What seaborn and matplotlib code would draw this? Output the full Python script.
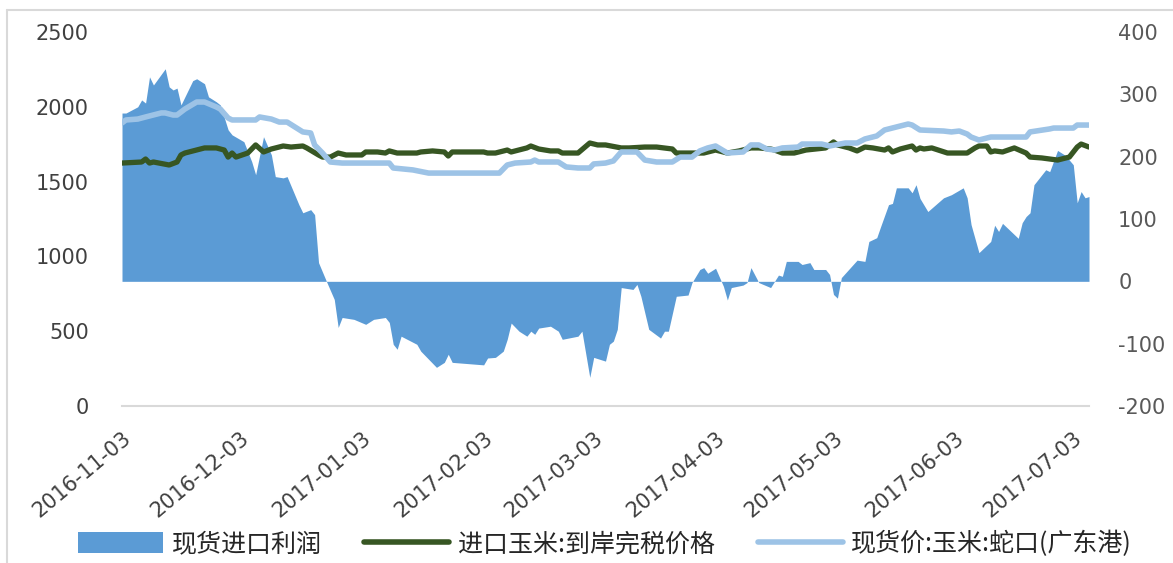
import pandas as pd
import seaborn as sns
import matplotlib.pyplot as plt
from matplotlib.lines import Line2D
from matplotlib.patches import Patch

# 现货进口利润 (right axis)
profit_dates = ['2016-11-03', '2016-11-04', '2016-11-07', '2016-11-08', '2016-11-09', '2016-11-10',
                '2016-11-11', '2016-11-14', '2016-11-15', '2016-11-16', '2016-11-17', '2016-11-18',
                '2016-11-21', '2016-11-22', '2016-11-24', '2016-11-25', '2016-11-27', '2016-11-28',
                '2016-11-30', '2016-12-01', '2016-12-04', '2016-12-06', '2016-12-07', '2016-12-09',
                '2016-12-11', '2016-12-12', '2016-12-14', '2016-12-15', '2016-12-18', '2016-12-19',
                '2016-12-21', '2016-12-22', '2016-12-23', '2016-12-25', '2016-12-27', '2016-12-28',
                '2016-12-29', '2017-01-01', '2017-01-04', '2017-01-06', '2017-01-09', '2017-01-10',
                '2017-01-11', '2017-01-12', '2017-01-13', '2017-01-17', '2017-01-18', '2017-01-20',
                '2017-01-22', '2017-01-24', '2017-01-25', '2017-01-26', '2017-02-03', '2017-02-04',
                '2017-02-06', '2017-02-08', '2017-02-09', '2017-02-10', '2017-02-12', '2017-02-14',
                '2017-02-15', '2017-02-16', '2017-02-17', '2017-02-20', '2017-02-22', '2017-02-23',
                '2017-02-27', '2017-02-28', '2017-03-02', '2017-03-03', '2017-03-06', '2017-03-07',
                '2017-03-08', '2017-03-09', '2017-03-10', '2017-03-13', '2017-03-14', '2017-03-15',
                '2017-03-17', '2017-03-20', '2017-03-21', '2017-03-22', '2017-03-24', '2017-03-27',
                '2017-03-28', '2017-03-30', '2017-03-31', '2017-04-01', '2017-04-03', '2017-04-05',
                '2017-04-06', '2017-04-07', '2017-04-10', '2017-04-11', '2017-04-12', '2017-04-14',
                '2017-04-17', '2017-04-18', '2017-04-19', '2017-04-20', '2017-04-21', '2017-04-24',
                '2017-04-25', '2017-04-27', '2017-04-28', '2017-05-01', '2017-05-02', '2017-05-03',
                '2017-05-04', '2017-05-05', '2017-05-08', '2017-05-09', '2017-05-11', '2017-05-12',
                '2017-05-14', '2017-05-15', '2017-05-17', '2017-05-18', '2017-05-19', '2017-05-22',
                '2017-05-23', '2017-05-24', '2017-05-25', '2017-05-27', '2017-05-31', '2017-06-02',
                '2017-06-05', '2017-06-06', '2017-06-07', '2017-06-09', '2017-06-12', '2017-06-13',
                '2017-06-14', '2017-06-15', '2017-06-19', '2017-06-20', '2017-06-21', '2017-06-22',
                '2017-06-23', '2017-06-26', '2017-06-27', '2017-06-29', '2017-07-01', '2017-07-03',
                '2017-07-04', '2017-07-05', '2017-07-06', '2017-07-07']
profit_values = [270, 270, 280, 291, 286, 328,
                 315, 341, 312, 307, 310, 283,
                 322, 325, 317, 296, 288, 283,
                 243, 235, 224, 192, 171, 232,
                 203, 168, 166, 168, 123, 110,
                 115, 107, 30, 0, -29, -74,
                 -58, -61, -69, -61, -58, -66,
                 -101, -109, -88, -101, -112, -125,
                 -138, -130, -117, -130, -134, -123,
                 -122, -112, -93, -67, -80, -88,
                 -80, -85, -75, -72, -80, -93,
                 -88, -80, -154, -122, -128, -101,
                 -96, -77, -10, -13, -5, -24,
                 -77, -91, -80, -80, -24, -22,
                 -2, 19, 22, 13, 21, -8,
                 -30, -10, -6, -2, 22, -2,
                 -10, 0, 10, 8, 32, 32,
                 27, 30, 19, 19, 11, -21,
                 -27, 6, 27, 34, 32, 64,
                 70, 88, 123, 125, 150, 150,
                 142, 155, 133, 112, 134, 139,
                 150, 134, 91, 46, 64, 90,
                 80, 93, 69, 94, 104, 110,
                 155, 179, 176, 210, 202, 187,
                 126, 144, 134, 136]

# 进口玉米:到岸完税价格 (left axis)
cif_dates = ['2016-11-03', '2016-11-08', '2016-11-09', '2016-11-10', '2016-11-11', '2016-11-15',
             '2016-11-17', '2016-11-18', '2016-11-19', '2016-11-24', '2016-11-27', '2016-11-29',
             '2016-11-30', '2016-12-01', '2016-12-02', '2016-12-05', '2016-12-07', '2016-12-09',
             '2016-12-11', '2016-12-14', '2016-12-16', '2016-12-19', '2016-12-20', '2016-12-23',
             '2016-12-24', '2016-12-26', '2016-12-28', '2016-12-30', '2017-01-03', '2017-01-04',
             '2017-01-07', '2017-01-09', '2017-01-10', '2017-01-12', '2017-01-17', '2017-01-18',
             '2017-01-21', '2017-01-24', '2017-01-25', '2017-01-26', '2017-02-03', '2017-02-04',
             '2017-02-06', '2017-02-09', '2017-02-10', '2017-02-14', '2017-02-15', '2017-02-17',
             '2017-02-20', '2017-02-22', '2017-02-23', '2017-02-27', '2017-03-02', '2017-03-04',
             '2017-03-06', '2017-03-10', '2017-03-12', '2017-03-16', '2017-03-19', '2017-03-23',
             '2017-03-24', '2017-03-29', '2017-03-31', '2017-04-03', '2017-04-06', '2017-04-09',
             '2017-04-12', '2017-04-14', '2017-04-17', '2017-04-18', '2017-04-20', '2017-04-23',
             '2017-04-26', '2017-05-01', '2017-05-03', '2017-05-04', '2017-05-07', '2017-05-09',
             '2017-05-11', '2017-05-13', '2017-05-16', '2017-05-17', '2017-05-18', '2017-05-20',
             '2017-05-23', '2017-05-24', '2017-05-25', '2017-05-26', '2017-05-28', '2017-06-01',
             '2017-06-06', '2017-06-08', '2017-06-09', '2017-06-11', '2017-06-12', '2017-06-13',
             '2017-06-15', '2017-06-18', '2017-06-21', '2017-06-22', '2017-06-25', '2017-06-29',
             '2017-07-02', '2017-07-04', '2017-07-05', '2017-07-07']
cif_values = [1624, 1631, 1651, 1624, 1631, 1611,
              1631, 1678, 1691, 1725, 1725, 1711,
              1664, 1691, 1664, 1691, 1745, 1698,
              1718, 1738, 1731, 1738, 1725, 1678,
              1664, 1664, 1691, 1678, 1678, 1698,
              1698, 1691, 1705, 1691, 1691, 1698,
              1705, 1698, 1671, 1698, 1698, 1691,
              1691, 1711, 1698, 1725, 1738, 1718,
              1705, 1705, 1691, 1691, 1758, 1745,
              1745, 1725, 1725, 1731, 1731, 1718,
              1691, 1691, 1691, 1711, 1691, 1705,
              1725, 1725, 1718, 1711, 1691, 1691,
              1711, 1725, 1765, 1745, 1725, 1705,
              1731, 1725, 1711, 1725, 1698, 1718,
              1738, 1711, 1725, 1718, 1725, 1691,
              1691, 1725, 1738, 1738, 1698, 1705,
              1698, 1725, 1691, 1664, 1658, 1644,
              1664, 1731, 1751, 1731]

# 现货价:玉米:蛇口(广东港) (left axis)
spot_dates = ['2016-11-03', '2016-11-04', '2016-11-07', '2016-11-09', '2016-11-13', '2016-11-14',
              '2016-11-16', '2016-11-17', '2016-11-19', '2016-11-22', '2016-11-24', '2016-11-27',
              '2016-11-28', '2016-11-30', '2016-12-01', '2016-12-07', '2016-12-08', '2016-12-11',
              '2016-12-13', '2016-12-15', '2016-12-17', '2016-12-19', '2016-12-21', '2016-12-22',
              '2016-12-24', '2016-12-26', '2016-12-29', '2017-01-10', '2017-01-11', '2017-01-16',
              '2017-01-20', '2017-02-07', '2017-02-09', '2017-02-11', '2017-02-15', '2017-02-16',
              '2017-02-17', '2017-02-22', '2017-02-24', '2017-02-27', '2017-03-02', '2017-03-03',
              '2017-03-06', '2017-03-08', '2017-03-10', '2017-03-14', '2017-03-16', '2017-03-19',
              '2017-03-23', '2017-03-25', '2017-03-28', '2017-03-30', '2017-04-01', '2017-04-03',
              '2017-04-06', '2017-04-10', '2017-04-12', '2017-04-14', '2017-04-16', '2017-04-18',
              '2017-04-20', '2017-04-24', '2017-04-25', '2017-04-30', '2017-05-02', '2017-05-06',
              '2017-05-09', '2017-05-11', '2017-05-14', '2017-05-16', '2017-05-19', '2017-05-22',
              '2017-05-23', '2017-05-25', '2017-05-31', '2017-06-02', '2017-06-04', '2017-06-06',
              '2017-06-07', '2017-06-09', '2017-06-12', '2017-06-21', '2017-06-22', '2017-06-27',
              '2017-06-28', '2017-07-03', '2017-07-04', '2017-07-07']
spot_values = [1892, 1912, 1918, 1932, 1959, 1959,
               1945, 1945, 1985, 2032, 2032, 1999,
               1985, 1925, 1912, 1912, 1932, 1918,
               1898, 1898, 1865, 1832, 1825, 1745,
               1691, 1631, 1624, 1624, 1591, 1578,
               1557, 1557, 1611, 1624, 1631, 1644,
               1631, 1631, 1598, 1591, 1591, 1618,
               1624, 1638, 1698, 1698, 1644, 1631,
               1631, 1664, 1664, 1705, 1725, 1738,
               1691, 1698, 1745, 1745, 1718, 1711,
               1725, 1731, 1751, 1751, 1738, 1758,
               1758, 1785, 1805, 1845, 1865, 1885,
               1878, 1845, 1838, 1832, 1838, 1818,
               1798, 1778, 1798, 1798, 1832, 1852,
               1858, 1858, 1878, 1878]

tick_dates = ['2016-11-03', '2016-12-03', '2017-01-03', '2017-02-03', '2017-03-03',
              '2017-04-03', '2017-05-03', '2017-06-03', '2017-07-03']
left_ticks = [0, 500, 1000, 1500, 2000, 2500]
right_ticks = [-200, -100, 0, 100, 200, 300, 400]

names = ['现货进口利润', '进口玉米:到岸完税价格', '现货价:玉米:蛇口(广东港)']
c_area = '#5B9BD5'
c_green = '#375623'
c_light = '#9DC3E6'

sns.set_theme(style='white')
plt.rcParams['font.family'] = ['DejaVu Sans', 'Noto Sans CJK SC']
plt.rcParams['axes.unicode_minus'] = False

profit = pd.DataFrame({'date': pd.to_datetime(profit_dates), 'v': profit_values})
cif = pd.DataFrame({'date': pd.to_datetime(cif_dates), 'v': cif_values})
spot = pd.DataFrame({'date': pd.to_datetime(spot_dates), 'v': spot_values})

fig = plt.figure(figsize=(11.73, 5.63), dpi=100)
ax = fig.add_axes([122 / 1173, 1 - 406 / 563, (1089 - 122) / 1173, (406 - 32) / 563])
ax2 = ax.twinx()

# area on the right axis, drawn behind the lines
ax2.fill_between(profit['date'], profit['v'], 0, color=c_area, linewidth=0)
ax.set_zorder(ax2.get_zorder() + 1)
ax.patch.set_visible(False)

sns.lineplot(data=cif, x='date', y='v', ax=ax, color=c_green, linewidth=3.8)
sns.lineplot(data=spot, x='date', y='v', ax=ax, color=c_light, linewidth=4.0)

ax.set_xlim(pd.Timestamp('2016-11-03'), pd.Timestamp('2017-07-07'))
ax.set_ylim(0, 2500)
ax2.set_ylim(-200, 400)
ax.set_yticks(left_ticks)
ax2.set_yticks(right_ticks)
ax.set_xticks(pd.to_datetime(tick_dates))
ax.set_xticklabels(tick_dates, rotation=40, ha='right', rotation_mode='anchor')
ax.set_xlabel('')
ax.set_ylabel('')
ax2.set_ylabel('')

ax.tick_params(axis='y', labelsize=15, labelcolor='#404040', length=0, pad=24)
ax.tick_params(axis='x', labelsize=15, labelcolor='#404040', length=0, pad=16)
ax2.tick_params(axis='y', labelsize=15, labelcolor='#595959', length=0, pad=21)

for s in ['top', 'left', 'right']:
    ax.spines[s].set_visible(False)
for s in ax2.spines.values():
    s.set_visible(False)
ax.spines['bottom'].set_color('#D9D9D9')
ax.spines['bottom'].set_linewidth(1.5)

# outer frame of the chart
fig.add_artist(Line2D([7 / 1173, 7 / 1173], [0, 1 - 10 / 563], transform=fig.transFigure,
                      color='#D9D9D9', linewidth=1.5))
fig.add_artist(Line2D([7 / 1173, 1], [1 - 10 / 563, 1 - 10 / 563], transform=fig.transFigure,
                      color='#D9D9D9', linewidth=1.5))

handles = [Patch(facecolor=c_area, edgecolor='none'),
           Line2D([], [], color=c_green, linewidth=4),
           Line2D([], [], color=c_light, linewidth=4)]
fig.legend(handles, names, loc='center', bbox_to_anchor=(605 / 1173, 1 - 544 / 563), ncol=3,
           frameon=False, handlelength=3.4, handleheight=0.9, handletextpad=0.35,
           columnspacing=1.7, prop={'family': ['Noto Sans CJK SC', 'DejaVu Sans'], 'size': 18})

fig.savefig('out.png', dpi=100)
